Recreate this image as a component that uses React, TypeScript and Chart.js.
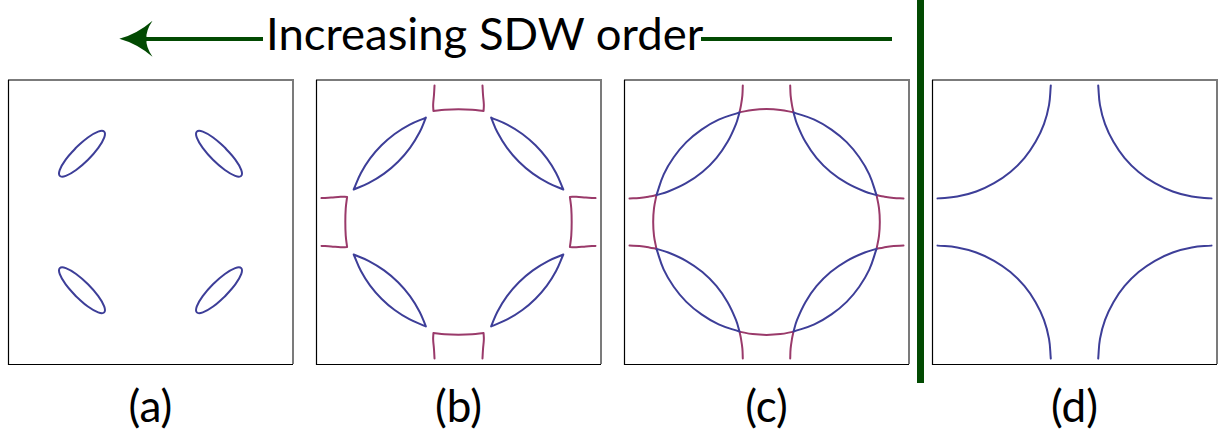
import React, { useEffect, useLayoutEffect, useRef } from "react";
import { Chart, registerables } from "chart.js";

Chart.register(...registerables);

type Pt = [number, number] | null;

// ---------- Panel (a): small hole ellipses (strong SDW order) ----------
const aEllipseTL: Pt[] = [[-0.544,0.544],[-0.619,0.457],[-0.662,0.382],[-0.662,0.338],[-0.618,0.338],[-0.543,0.381],[-0.456,0.456],[-0.381,0.543],[-0.338,0.618],[-0.338,0.662],[-0.382,0.662],[-0.457,0.619],[-0.544,0.544]];
const aEllipseTR: Pt[] = [[0.544,0.544],[0.619,0.457],[0.662,0.382],[0.662,0.338],[0.618,0.338],[0.543,0.381],[0.456,0.456],[0.381,0.543],[0.338,0.618],[0.338,0.662],[0.382,0.662],[0.457,0.619],[0.544,0.544]];
const aEllipseBL: Pt[] = [[-0.544,-0.544],[-0.619,-0.457],[-0.662,-0.382],[-0.662,-0.338],[-0.618,-0.338],[-0.543,-0.381],[-0.456,-0.456],[-0.381,-0.543],[-0.338,-0.618],[-0.338,-0.662],[-0.382,-0.662],[-0.457,-0.619],[-0.544,-0.544]];
const aEllipseBR: Pt[] = [[0.544,-0.544],[0.619,-0.457],[0.662,-0.382],[0.662,-0.338],[0.618,-0.338],[0.543,-0.381],[0.456,-0.456],[0.381,-0.543],[0.338,-0.618],[0.338,-0.662],[0.382,-0.662],[0.457,-0.619],[0.544,-0.544]];

// ---------- Panel (b): lens pockets (outer edge, gap, inner edge) ----------
const bLensTL: Pt[] = [[-0.765,0.238],[-0.712,0.359],[-0.645,0.466],[-0.562,0.562],[-0.466,0.645],[-0.359,0.712],[-0.238,0.765],null,
  [-0.238,0.765],[-0.284,0.657],[-0.354,0.543],[-0.441,0.441],[-0.543,0.354],[-0.657,0.284],[-0.765,0.238]];
const bLensTR: Pt[] = [[0.765,0.238],[0.712,0.359],[0.645,0.466],[0.562,0.562],[0.466,0.645],[0.359,0.712],[0.238,0.765],null,
  [0.238,0.765],[0.284,0.657],[0.354,0.543],[0.441,0.441],[0.543,0.354],[0.657,0.284],[0.765,0.238]];
const bLensBL: Pt[] = [[-0.765,-0.238],[-0.712,-0.359],[-0.645,-0.466],[-0.562,-0.562],[-0.466,-0.645],[-0.359,-0.712],[-0.238,-0.765],null,
  [-0.238,-0.765],[-0.284,-0.657],[-0.354,-0.543],[-0.441,-0.441],[-0.543,-0.354],[-0.657,-0.284],[-0.765,-0.238]];
const bLensBR: Pt[] = [[0.765,-0.238],[0.712,-0.359],[0.645,-0.466],[0.562,-0.562],[0.466,-0.645],[0.359,-0.712],[0.238,-0.765],null,
  [0.238,-0.765],[0.284,-0.657],[0.354,-0.543],[0.441,-0.441],[0.543,-0.354],[0.657,-0.284],[0.765,-0.238]];

// Panel (b): electron pieces near the zone edges (leg, arc, leg)
const bEdgeTop: Pt[] = [[-0.175,1.0],[-0.179,0.93],[-0.185,0.86],[-0.183,0.813],null,
  [-0.183,0.813],[-0.10,0.823],[0,0.826],[0.10,0.823],[0.183,0.813],null,
  [0.183,0.813],[0.185,0.86],[0.179,0.93],[0.175,1.0]];
const bEdgeBottom: Pt[] = [[-0.175,-1.0],[-0.179,-0.93],[-0.185,-0.86],[-0.183,-0.813],null,
  [-0.183,-0.813],[-0.10,-0.823],[0,-0.826],[0.10,-0.823],[0.183,-0.813],null,
  [0.183,-0.813],[0.185,-0.86],[0.179,-0.93],[0.175,-1.0]];
const bEdgeLeft: Pt[] = [[-1.0,0.175],[-0.93,0.179],[-0.86,0.185],[-0.813,0.183],null,
  [-0.813,0.183],[-0.823,0.10],[-0.826,0],[-0.823,-0.10],[-0.813,-0.183],null,
  [-0.813,-0.183],[-0.86,-0.185],[-0.93,-0.179],[-1.0,-0.175]];
const bEdgeRight: Pt[] = [[1.0,0.175],[0.93,0.179],[0.86,0.185],[0.813,0.183],null,
  [0.813,0.183],[0.823,0.10],[0.826,0],[0.823,-0.10],[0.813,-0.183],null,
  [0.813,-0.183],[0.86,-0.185],[0.93,-0.179],[1.0,-0.175]];

// ---------- Panel (c): weak order, original arc + folded arc ----------
const cBlueTL: Pt[] = [[-0.197,0.803],[-0.223,0.717],[-0.284,0.587],[-0.366,0.468],[-0.468,0.366],[-0.587,0.284],[-0.717,0.223],[-0.803,0.197],null,
  [-0.197,0.803],[-0.349,0.750],[-0.474,0.677],[-0.585,0.585],[-0.677,0.474],[-0.750,0.349],[-0.803,0.197]];
const cBlueTR: Pt[] = [[0.197,0.803],[0.223,0.717],[0.284,0.587],[0.366,0.468],[0.468,0.366],[0.587,0.284],[0.717,0.223],[0.803,0.197],null,
  [0.197,0.803],[0.349,0.750],[0.474,0.677],[0.585,0.585],[0.677,0.474],[0.750,0.349],[0.803,0.197]];
const cBlueBL: Pt[] = [[-0.197,-0.803],[-0.223,-0.717],[-0.284,-0.587],[-0.366,-0.468],[-0.468,-0.366],[-0.587,-0.284],[-0.717,-0.223],[-0.803,-0.197],null,
  [-0.197,-0.803],[-0.349,-0.750],[-0.474,-0.677],[-0.585,-0.585],[-0.677,-0.474],[-0.750,-0.349],[-0.803,-0.197]];
const cBlueBR: Pt[] = [[0.197,-0.803],[0.223,-0.717],[0.284,-0.587],[0.366,-0.468],[0.468,-0.366],[0.587,-0.284],[0.717,-0.223],[0.803,-0.197],null,
  [0.197,-0.803],[0.349,-0.750],[0.474,-0.677],[0.585,-0.585],[0.677,-0.474],[0.750,-0.349],[0.803,-0.197]];

const cMagTop: Pt[] = [[-0.173,1.0],[-0.176,0.928],[-0.186,0.856],[-0.197,0.803],null,
  [-0.197,0.803],[-0.101,0.821],[0,0.827],[0.101,0.821],[0.197,0.803],null,
  [0.197,0.803],[0.186,0.856],[0.176,0.928],[0.173,1.0]];
const cMagBottom: Pt[] = [[-0.173,-1.0],[-0.176,-0.928],[-0.186,-0.856],[-0.197,-0.803],null,
  [-0.197,-0.803],[-0.101,-0.821],[0,-0.827],[0.101,-0.821],[0.197,-0.803],null,
  [0.197,-0.803],[0.186,-0.856],[0.176,-0.928],[0.173,-1.0]];
const cMagLeft: Pt[] = [[-1.0,0.173],[-0.928,0.176],[-0.856,0.186],[-0.803,0.197],null,
  [-0.803,0.197],[-0.821,0.101],[-0.827,0],[-0.821,-0.101],[-0.803,-0.197],null,
  [-0.803,-0.197],[-0.856,-0.186],[-0.928,-0.176],[-1.0,-0.173]];
const cMagRight: Pt[] = [[1.0,0.173],[0.928,0.176],[0.856,0.186],[0.803,0.197],null,
  [0.803,0.197],[0.821,0.101],[0.827,0],[0.821,-0.101],[0.803,-0.197],null,
  [0.803,-0.197],[0.856,-0.186],[0.928,-0.176],[1.0,-0.173]];

// ---------- Panel (d): paramagnetic Fermi surface ----------
const dArcTL: Pt[] = [[-0.173,1.0],[-0.186,0.856],[-0.223,0.717],[-0.284,0.587],[-0.366,0.468],[-0.468,0.366],[-0.587,0.284],[-0.717,0.223],[-0.856,0.186],[-1.0,0.173]];
const dArcTR: Pt[] = [[0.173,1.0],[0.186,0.856],[0.223,0.717],[0.284,0.587],[0.366,0.468],[0.468,0.366],[0.587,0.284],[0.717,0.223],[0.856,0.186],[1.0,0.173]];
const dArcBL: Pt[] = [[-0.173,-1.0],[-0.186,-0.856],[-0.223,-0.717],[-0.284,-0.587],[-0.366,-0.468],[-0.468,-0.366],[-0.587,-0.284],[-0.717,-0.223],[-0.856,-0.186],[-1.0,-0.173]];
const dArcBR: Pt[] = [[0.173,-1.0],[0.186,-0.856],[0.223,-0.717],[0.284,-0.587],[0.366,-0.468],[0.468,-0.366],[0.587,-0.284],[0.717,-0.223],[0.856,-0.186],[1.0,-0.173]];

const panelLabels = ["(a)", "(b)", "(c)", "(d)"];
const titleText = "Increasing SDW order";
const axisRange = [-1.04, 1.04];

const BLUE = "#3d3e98";
const MAGENTA = "#9a3a6a";
const GREEN = "#024a02";

type Curve = { pts: Pt[]; color: string };
const panelCurves: Curve[][] = [
  [aEllipseTL, aEllipseTR, aEllipseBL, aEllipseBR].map((pts) => ({ pts, color: BLUE })),
  [
    ...[bEdgeTop, bEdgeBottom, bEdgeLeft, bEdgeRight].map((pts) => ({ pts, color: MAGENTA })),
    ...[bLensTL, bLensTR, bLensBL, bLensBR].map((pts) => ({ pts, color: BLUE })),
  ],
  [
    ...[cBlueTL, cBlueTR, cBlueBL, cBlueBR].map((pts) => ({ pts, color: BLUE })),
    ...[cMagTop, cMagBottom, cMagLeft, cMagRight].map((pts) => ({ pts, color: MAGENTA })),
  ],
  [dArcTL, dArcTR, dArcBL, dArcBR].map((pts) => ({ pts, color: BLUE })),
];

const PANEL_LEFT = [4, 312, 620, 928];
const CANVAS_W = 293;
const CANVAS_H = 292;
const PAD = 4;

const framePlugin = {
  id: "frame",
  afterDraw(chart: any) {
    const { ctx, chartArea } = chart;
    const { left, right, top, bottom } = chartArea;
    ctx.save();
    ctx.lineWidth = 2;
    ctx.strokeStyle = "#7b7b7b";
    ctx.beginPath();
    ctx.moveTo(left, top);
    ctx.lineTo(right, top);
    ctx.lineTo(right, bottom);
    ctx.stroke();
    ctx.lineWidth = 1.2;
    ctx.strokeStyle = "#000";
    ctx.beginPath();
    ctx.moveTo(left + 0.5, top);
    ctx.lineTo(left + 0.5, bottom + 0.5);
    ctx.lineTo(right, bottom + 0.5);
    ctx.stroke();
    ctx.restore();
  },
};

function Panel({ curves, left }: { curves: Curve[]; left: number }) {
  const ref = useRef<HTMLCanvasElement>(null);
  useEffect(() => {
    if (!ref.current) return;
    const chart = new Chart(ref.current, {
      type: "scatter",
      data: {
        datasets: curves.map((c) => ({
          data: c.pts.map((p) => (p ? { x: p[0], y: p[1] } : { x: NaN, y: NaN })),
          borderColor: c.color,
          backgroundColor: c.color,
          showLine: true,
          tension: 0.4,
          pointRadius: 0,
          pointHoverRadius: 0,
          borderWidth: 2,
          borderCapStyle: "round",
          borderJoinStyle: "round",
          fill: false,
          spanGaps: false,
        })),
      },
      options: {
        responsive: false,
        animation: false,
        events: [],
        layout: { padding: PAD },
        plugins: { legend: { display: false }, tooltip: { enabled: false }, title: { display: false } },
        scales: {
          x: { type: "linear", display: false, min: axisRange[0], max: axisRange[1] },
          y: { type: "linear", display: false, min: axisRange[0], max: axisRange[1] },
        },
      },
      plugins: [framePlugin],
    } as any);
    return () => chart.destroy();
  }, [curves]);
  return (
    <canvas
      ref={ref}
      width={CANVAS_W}
      height={CANVAS_H}
      style={{ position: "absolute", left, top: 76, width: CANVAS_W, height: CANVAS_H, display: "block" }}
    />
  );
}

export default function App() {
  const titleRef = useRef<HTMLSpanElement>(null);
  useLayoutEffect(() => {
    const el = titleRef.current;
    if (!el) return;
    const w = el.offsetWidth;
    if (w > 0) el.style.transform = `scaleX(${437 / w})`;
  }, []);

  const font = "Lato, 'Open Sans', sans-serif";
  return (
    <div
      style={{
        position: "fixed",
        left: 0,
        top: 0,
        width: 1220,
        height: 429,
        background: "#fff",
        overflow: "hidden",
      }}
    >
      <svg width={1220} height={429} style={{ position: "absolute", left: 0, top: 0 }}>
        <rect x={146} y={37} width={117} height={4} fill={GREEN} />
        <path
          d="M119.3,38.8 Q137,34 152.5,20.7 Q145.5,31 146.5,38.8 Q145.5,46.6 152.5,56.8 Q137,43.6 119.3,38.8 Z"
          fill={GREEN}
        />
        <rect x={701} y={37} width={191} height={4} fill={GREEN} />
        <rect x={917} y={0} width={7} height={383} fill={GREEN} />
      </svg>
      <div
        style={{
          position: "absolute",
          left: 0,
          top: 11,
          width: 969,
          textAlign: "center",
          fontFamily: font,
          fontSize: 44,
          lineHeight: "44px",
          color: "#000",
          whiteSpace: "nowrap",
        }}
      >
        <span ref={titleRef} style={{ display: "inline-block", transformOrigin: "50% 50%" }}>
          {titleText}
        </span>
      </div>
      {panelCurves.map((curves, i) => (
        <Panel key={i} curves={curves} left={PANEL_LEFT[i]} />
      ))}
      {panelLabels.map((lab, i) => (
        <div
          key={lab}
          style={{
            position: "absolute",
            left: PANEL_LEFT[i] + PAD + 142.5 - 60,
            top: 383,
            width: 120,
            textAlign: "center",
            fontFamily: font,
            fontSize: 44,
            lineHeight: "44px",
            color: "#000",
          }}
        >
          {lab}
        </div>
      ))}
    </div>
  );
}
